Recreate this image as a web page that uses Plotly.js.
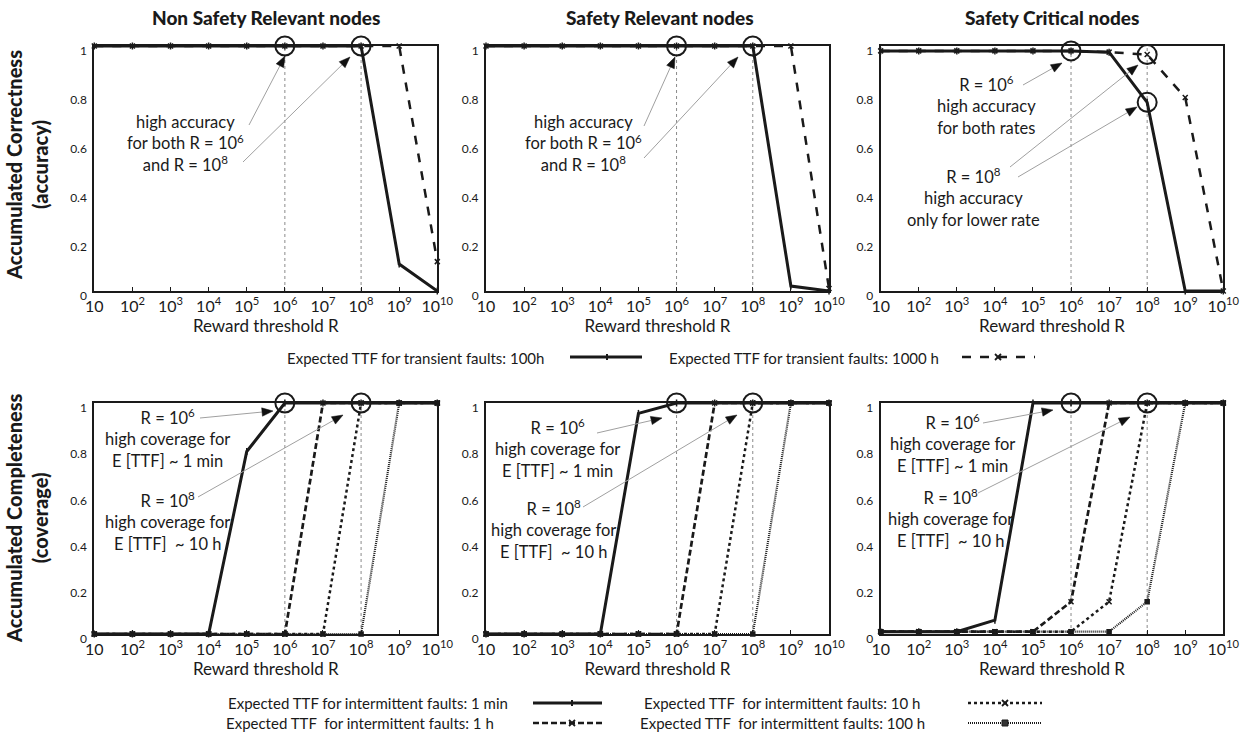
<!DOCTYPE html>
<html>
<head>
<meta charset="utf-8">
<script src="https://cdn.plot.ly/plotly-3.0.1.min.js"></script>
<style>html,body{margin:0;padding:0;background:#fff;}#chart{width:1247px;height:736px;}</style>
</head>
<body>
<div id="chart"></div>
<script>
// ---------------- DATA ----------------
const R = [1e1, 1e2, 1e3, 1e4, 1e5, 1e6, 1e7, 1e8, 1e9, 1e10];
const xTickText = ['10', '10<sup>2</sup>', '10<sup>3</sup>', '10<sup>4</sup>', '10<sup>5</sup>',
  '10<sup>6</sup>', '10<sup>7</sup>', '10<sup>8</sup>', '10<sup>9</sup>', '10<sup>10</sup>'];
const yTickVals = [0, 0.2, 0.4, 0.6, 0.8, 1];
const yTickText = ['0', '0.2', '0.4', '0.6', '0.8', '1'];
const panelTitles = ['Non Safety Relevant nodes', 'Safety Relevant nodes', 'Safety Critical nodes'];
const refR = [1e6, 1e8];

// Accumulated correctness (accuracy), transient faults E[TTF] 100h / 1000h
const accNonSafety100h  = [1, 1, 1, 1, 1, 1, 1, 1, 0.11, 0];
const accNonSafety1000h = [1, 1, 1, 1, 1, 1, 1, 1, 1, 0.12];
const accRelevant100h   = [1, 1, 1, 1, 1, 1, 1, 1, 0.02, 0];
const accRelevant1000h  = [1, 1, 1, 1, 1, 1, 1, 1, 1, 0.01];
const accCritical100h   = [0.98, 0.98, 0.98, 0.98, 0.98, 0.98, 0.975, 0.77, 0, 0];
const accCritical1000h  = [0.98, 0.98, 0.98, 0.98, 0.98, 0.98, 0.975, 0.965, 0.79, 0];

// Accumulated completeness (coverage), intermittent faults E[TTF] 1 min / 1 h / 10 h / 100 h
const covNonSafety1min = [0, 0, 0, 0, 0.79, 1, 1, 1, 1, 1];
const covNonSafety1h   = [0, 0, 0, 0, 0, 0, 1, 1, 1, 1];
const covNonSafety10h  = [0, 0, 0, 0, 0, 0, 0, 1, 1, 1];
const covNonSafety100h = [0, 0, 0, 0, 0, 0, 0, 0, 1, 1];
const covRelevant1min  = [0, 0, 0, 0, 0.955, 1, 1, 1, 1, 1];
const covRelevant1h    = [0, 0, 0, 0, 0, 0, 1, 1, 1, 1];
const covRelevant10h   = [0, 0, 0, 0, 0, 0, 0, 1, 1, 1];
const covRelevant100h  = [0, 0, 0, 0, 0, 0, 0, 0, 1, 1];
const covCritical1min  = [0.01, 0.01, 0.01, 0.06, 1, 1, 1, 1, 1, 1];
const covCritical1h    = [0.01, 0.01, 0.01, 0.01, 0.01, 0.14, 1, 1, 1, 1];
const covCritical10h   = [0.01, 0.01, 0.01, 0.01, 0.01, 0.01, 0.14, 1, 1, 1];
const covCritical100h  = [0.01, 0.01, 0.01, 0.01, 0.01, 0.01, 0.01, 0.14, 1, 1];

const transientLabels = ['Expected TTF for transient faults: 100h', 'Expected TTF for transient faults: 1000 h'];
const intermittentLabels = ['Expected TTF for intermittent faults: 1 min', 'Expected TTF\u00A0 for intermittent faults: 1 h',
  'Expected TTF\u00A0 for intermittent faults: 10 h', 'Expected TTF\u00A0 for intermittent faults: 100 h'];

// ---------------- STYLES ----------------
const W = 1247, H = 736;
const FONT = 'Lato, "Liberation Sans", sans-serif';
const px = x => x / W;
const py = y => 1 - y / H;

const transientStyles = [
  {dash: 'solid', width: 3, symbol: 'line-ns-open', msize: 5},
  {dash: 'dash', width: 2.5, symbol: 'x-thin-open', msize: 5}
];
const intermittentStyles = [
  {dash: 'solid', width: 3, symbol: 'line-ns-open', msize: 5},
  {dash: '6px,3px', width: 2.7, symbol: 'x-thin-open', msize: 5},
  {dash: '3px,3px', width: 2.5, symbol: 'x-thin-open', msize: 5},
  {dash: '1px,1px', width: 2.2, symbol: 'square', msize: 4}
];

const traces = [];
function ax(n, c) { return c + (n === 1 ? '' : n); }
function addSeries(n, y, st) {
  traces.push({
    x: R, y: y, xaxis: ax(n, 'x'), yaxis: ax(n, 'y'),
    mode: 'lines+markers', cliponaxis: false,
    line: {color: '#1a1a1a', width: st.width, dash: st.dash},
    marker: {symbol: st.symbol, size: st.msize, color: '#1a1a1a', line: {color: '#1a1a1a', width: 1.5}},
    hoverinfo: 'skip'
  });
}
function addRefLines(n) {
  refR.forEach(r => traces.push({
    x: [r, r], y: [0, 1], xaxis: ax(n, 'x'), yaxis: ax(n, 'y'),
    mode: 'lines', line: {color: '#8a8a8a', width: 1, dash: 'dot'}, hoverinfo: 'skip'
  }));
}
function addCircles(n, xs, ys) {
  traces.push({
    x: xs, y: ys, xaxis: ax(n, 'x'), yaxis: ax(n, 'y'),
    mode: 'markers', cliponaxis: false,
    marker: {symbol: 'circle-open', size: 19, color: '#1a1a1a', line: {width: 2, color: '#1a1a1a'}},
    hoverinfo: 'skip'
  });
}

// top row
addRefLines(1); addRefLines(2); addRefLines(3);
addSeries(1, accNonSafety100h, transientStyles[0]);
addSeries(1, accNonSafety1000h, transientStyles[1]);
addSeries(2, accRelevant100h, transientStyles[0]);
addSeries(2, accRelevant1000h, transientStyles[1]);
addSeries(3, accCritical100h, transientStyles[0]);
addSeries(3, accCritical1000h, transientStyles[1]);
addCircles(1, refR, [accNonSafety100h[5], accNonSafety100h[7]]);
addCircles(2, refR, [accRelevant100h[5], accRelevant100h[7]]);
addCircles(3, [refR[0], refR[1], refR[1]], [accCritical100h[5], accCritical1000h[7], accCritical100h[7]]);

// bottom row
addRefLines(4); addRefLines(5); addRefLines(6);
[[covNonSafety1min, covNonSafety1h, covNonSafety10h, covNonSafety100h],
 [covRelevant1min, covRelevant1h, covRelevant10h, covRelevant100h],
 [covCritical1min, covCritical1h, covCritical10h, covCritical100h]].forEach((set, i) => {
  for (let k = set.length - 1; k >= 0; k--) addSeries(4 + i, set[k], intermittentStyles[k]);
});
addCircles(4, refR, [covNonSafety1min[5], covNonSafety10h[7]]);
addCircles(5, refR, [covRelevant1min[5], covRelevant10h[7]]);
addCircles(6, refR, [covCritical1min[5], covCritical10h[7]]);

// ---------------- LAYOUT ----------------
const colX = [[94.3, 437.3], [486, 829], [880.7, 1223.3]];
const rowY = [[46, 291], [403, 634]];

const layout = {
  width: W, height: H, margin: {l: 0, r: 0, t: 0, b: 0},
  paper_bgcolor: '#fff', plot_bgcolor: '#fff', showlegend: false,
  font: {family: FONT, color: '#1a1a1a', size: 14},
  annotations: [], shapes: []
};

for (let n = 1; n <= 6; n++) {
  const c = (n - 1) % 3, r = Math.floor((n - 1) / 3);
  layout[ax(n, 'xaxis')] = {
    type: 'log', range: [1, 10], domain: [px(colX[c][0]), px(colX[c][1])], anchor: ax(n, 'y'),
    tickvals: R, ticktext: xTickText, ticks: 'inside', ticklen: 4, tickwidth: 1, tickcolor: '#1a1a1a',
    showline: true, linecolor: '#1a1a1a', linewidth: 2, mirror: true, showgrid: false, zeroline: false,
    tickfont: {size: 16, family: FONT, color: '#1a1a1a'},
    title: {text: 'Reward threshold R', font: {size: 17, family: FONT, color: '#1a1a1a'}, standoff: 3}
  };
  layout[ax(n, 'yaxis')] = {
    range: [0, 1], domain: [py(rowY[r][1]), py(rowY[r][0])], anchor: ax(n, 'x'),
    tickvals: yTickVals, ticktext: yTickText, ticks: '', showline: true, linecolor: '#1a1a1a', linewidth: 2,
    mirror: true, showgrid: false, zeroline: false, ticklabelshift: 5, ticklabelstandoff: 3,
    tickfont: {size: 12, family: FONT, color: '#1a1a1a'}
  };
}

// panel titles
const titleX = [266, 660, 1052];
panelTitles.forEach((t, i) => layout.annotations.push({
  text: t, x: px(titleX[i]), y: py(17), xref: 'paper', yref: 'paper',
  showarrow: false, xanchor: 'center', yanchor: 'middle', font: {size: 19, family: FONT, weight: 900}
}));
// y titles
[['Accumulated Correctness', '(accuracy)', 165], ['Accumulated Completeness', '(coverage)', 518]].forEach(a => layout.annotations.push({
  text: a[0] + '<br>' + a[1], x: px(27), y: py(a[2]), xref: 'paper', yref: 'paper',
  showarrow: false, textangle: -90, xanchor: 'center', yanchor: 'middle', font: {size: 20, family: FONT, weight: 900}
}));

// callout text blocks: [text, cx, cy]
const callouts = [
  ['high accuracy<br>for both R = 10<sup>6</sup><br>and R = 10<sup>8</sup>', 185, 143],
  ['high accuracy<br>for both R = 10<sup>6</sup><br>and R = 10<sup>8</sup>', 583, 143],
  ['R = 10<sup>6</sup><br>high accuracy<br>for both rates', 987, 105],
  ['R = 10<sup>8</sup><br>high accuracy<br>only for lower rate', 973, 197],
  ['R = 10<sup>6</sup><br>high coverage for<br>E [TTF] ~ 1 min', 167, 439],
  ['R = 10<sup>8</sup><br>high coverage for<br>E [TTF]\u00A0 ~ 10 h', 167, 521],
  ['R = 10<sup>6</sup><br>high coverage for<br>E [TTF] ~ 1 min', 557, 448],
  ['R = 10<sup>8</sup><br>high coverage for<br>E [TTF]\u00A0 ~ 10 h', 553, 529],
  ['R = 10<sup>6</sup><br>high coverage for<br>E [TTF] ~ 1 min', 952, 443],
  ['R = 10<sup>8</sup><br>high coverage for<br>E [TTF]\u00A0 ~ 10 h', 950, 518]
];
callouts.forEach(c => layout.annotations.push({
  text: c[0], x: px(c[1]), y: py(c[2]), xref: 'paper', yref: 'paper', showarrow: false,
  xanchor: 'center', yanchor: 'middle', align: 'center', font: {size: 16.5, family: FONT}
}));

// arrows: [tailX, tailY, tipX, tipY] — gray leader line with a black filled head
const arrows = [
  [249, 125, 285, 56], [243, 162, 350, 57],
  [644, 126, 675, 57], [644, 158, 738, 57],
  [1023, 85, 1062, 63], [1010, 167, 1138, 65], [1018, 177, 1137, 107],
  [200, 418, 273, 411], [198, 497, 343, 415],
  [597, 433, 662, 418], [583, 507, 737, 415],
  [983, 423, 1053, 410], [978, 493, 1130, 417]
];
arrows.forEach(a => {
  const dx = a[0] - a[2], dy = a[1] - a[3];
  const L = Math.hypot(dx, dy), ux = dx / L, uy = dy / L;
  const hl = 11, hw = 4.2;
  const bx = a[2] + ux * hl, by = a[3] + uy * hl;
  layout.shapes.push({type: 'line', xref: 'paper', yref: 'paper', x0: px(a[0]), y0: py(a[1]), x1: px(bx), y1: py(by),
    line: {color: '#a0a0a0', width: 1}});
  const p1 = [bx - uy * hw, by + ux * hw], p2 = [bx + uy * hw, by - ux * hw];
  layout.shapes.push({type: 'path', xref: 'paper', yref: 'paper',
    path: 'M' + px(a[2]) + ',' + py(a[3]) + ' L' + px(p1[0]) + ',' + py(p1[1]) + ' L' + px(p2[0]) + ',' + py(p2[1]) + ' Z',
    fillcolor: '#111', line: {color: '#111', width: 0.5}});
});

// ---------------- LEGENDS (drawn as keys) ----------------
const legFont = {size: 15, family: FONT, color: '#1a1a1a'};
function legText(t, x, y, anchor) {
  layout.annotations.push({text: t, x: px(x), y: py(y), xref: 'paper', yref: 'paper', showarrow: false,
    xanchor: anchor, yanchor: 'middle', font: legFont});
}
function legKey(x0, x1, y, st, mx) {
  layout.shapes.push({type: 'line', xref: 'paper', yref: 'paper', x0: px(x0), x1: px(x1), y0: py(y), y1: py(y),
    line: {color: '#1a1a1a', width: st.width, dash: st.dash}});
  if (st.symbol === 'line-ns-open') {
    layout.shapes.push({type: 'line', xref: 'paper', yref: 'paper', x0: px(mx), x1: px(mx), y0: py(y - 3), y1: py(y + 3),
      line: {color: '#1a1a1a', width: 2}});
  } else if (st.symbol === 'square') {
    layout.shapes.push({type: 'rect', xref: 'paper', yref: 'paper', x0: px(mx - 3), x1: px(mx + 3), y0: py(y - 3), y1: py(y + 3),
      line: {color: '#1a1a1a', width: 1}, fillcolor: '#333'});
  } else {
    layout.shapes.push({type: 'line', xref: 'paper', yref: 'paper', x0: px(mx - 3), x1: px(mx + 3), y0: py(y - 3), y1: py(y + 3),
      line: {color: '#1a1a1a', width: 1.8}});
    layout.shapes.push({type: 'line', xref: 'paper', yref: 'paper', x0: px(mx - 3), x1: px(mx + 3), y0: py(y + 3), y1: py(y - 3),
      line: {color: '#1a1a1a', width: 1.8}});
  }
}
legText(transientLabels[0], 546, 358, 'right');
legKey(570, 642, 357, transientStyles[0], 607);
legText(transientLabels[1], 667, 358, 'left');
legKey(962, 1035, 357, transientStyles[1], 998);

legText(intermittentLabels[0], 226, 703, 'left');
legKey(533, 602, 703, intermittentStyles[0], 572);
legText(intermittentLabels[1], 224, 723, 'left');
legKey(533, 602, 723, intermittentStyles[1], 572);
legText(intermittentLabels[2], 782, 703, 'center');
legKey(968, 1042, 703, intermittentStyles[2], 1005);
legText(intermittentLabels[3], 782, 723, 'center');
legKey(968, 1042, 723, intermittentStyles[3], 1005);

Plotly.newPlot('chart', traces, layout, {staticPlot: true, displayModeBar: false});
</script>
</body>
</html>
